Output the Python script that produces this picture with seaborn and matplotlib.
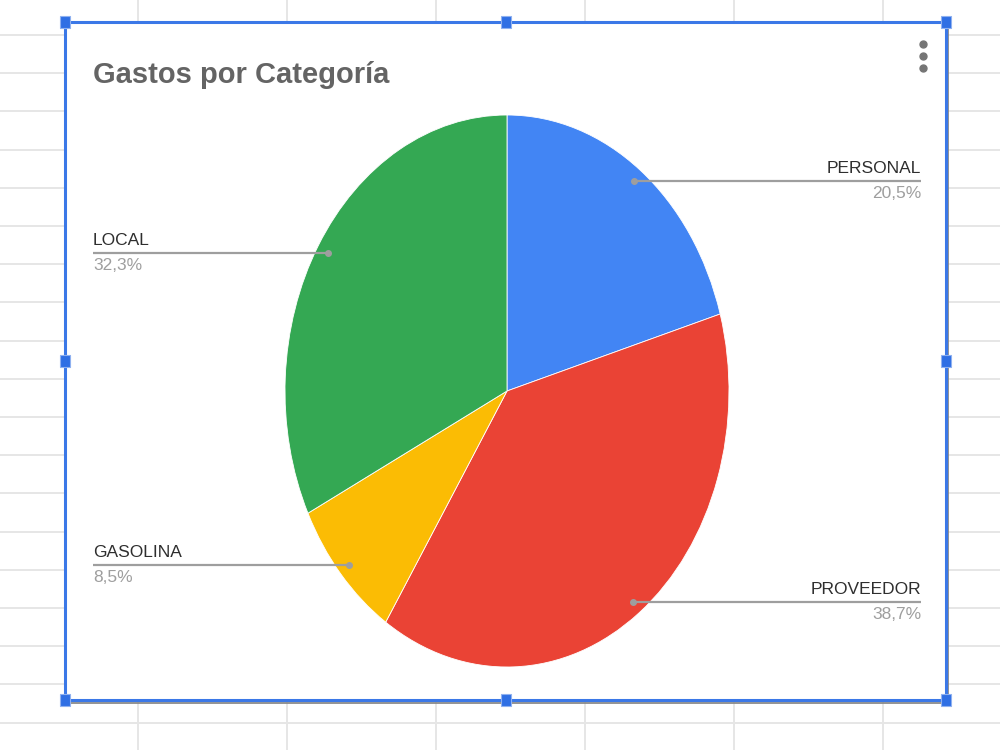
import numpy as np
import matplotlib
matplotlib.use("Agg")
import matplotlib.pyplot as plt
import seaborn as sns

# datos del gráfico
categorias = ["PERSONAL", "PROVEEDOR", "GASOLINA", "LOCAL"]
porcentajes = [20.5, 38.7, 8.5, 32.3]
etiquetas_pct = ["20,5%", "38,7%", "8,5%", "32,3%"]
colores = ["#4285f4", "#ea4335", "#fbbc04", "#34a853"]
titulo = "Gastos por Categoría"

sns.set_theme(style="white")
plt.rcParams['font.family'] = ['Liberation Sans', 'DejaVu Sans']

fig = plt.figure(figsize=(10, 7.5), dpi=100)
fig.patch.set_facecolor("white")

# fondo de la hoja de calculo (coordenadas en pixeles)
bg = fig.add_axes([0, 0, 1, 1], zorder=0)
bg.set_xlim(0, 1000)
bg.set_ylim(750, 0)
bg.axis('off')

for x in np.arange(138, 1000, 149):
    bg.axvline(x, color="#e6e6e6", lw=1.4)
for y in np.arange(35, 750, 38.2):
    bg.axhline(y, color="#e6e6e6", lw=1.4)

# area del grafico
L, R, T, B = 65, 946, 22, 700
bg.add_patch(plt.Rectangle((L, T), R - L, B - T, facecolor="white", edgecolor="none", zorder=2))
# sombra gris + borde azul
bg.plot([L + 2, R + 2, R + 2], [B + 2.5, B + 2.5, T + 2], color="#8a8a8a", lw=1.3, zorder=3)
bg.plot([L, R, R, L, L], [T, T, B, B, T], color="#3b78e7", lw=2.2, zorder=4)
for hx in (L, (L + R) / 2, R):
    for hy in (T, (T + B) / 2, B):
        if hx == (L + R) / 2 and hy == (T + B) / 2:
            continue
        bg.add_patch(plt.Rectangle((hx - 5, hy - 6), 10, 12, facecolor="#2f6fe4",
                                   edgecolor="#8fb1f0", lw=0.8, zorder=5))

# menu de tres puntos
for dy in (44, 56, 68):
    bg.plot(923, dy, 'o', color="#757575", ms=5, zorder=5)

bg.text(93, 83, titulo, fontsize=21, fontweight='bold', color="#646464",
        va='baseline', ha='left', zorder=6)

# pastel (eliptico como en la captura)
cx, cy, rx, ry = 507, 391, 222, 276
ax = fig.add_axes([(cx - rx) / 1000, (750 - cy - ry) / 750, 2 * rx / 1000, 2 * ry / 750], zorder=1)
ax.pie(porcentajes, colors=colores, startangle=90, counterclock=False,
       wedgeprops=dict(edgecolor="white", linewidth=0.6))
ax.set_aspect('auto')
ax.set_xlim(-1, 1)
ax.set_ylim(-1, 1)
ax.axis('off')

# capa de etiquetas
ov = fig.add_axes([0, 0, 1, 1], zorder=3)
ov.set_xlim(0, 1000)
ov.set_ylim(750, 0)
ov.axis('off')
ov.patch.set_alpha(0)

inicio = 0
total = sum(porcentajes)
for cat, p, txt in zip(categorias, porcentajes, etiquetas_pct):
    medio = (inicio + p / 2) / total * 2 * np.pi
    inicio += p
    dx, dy = 0.95 * np.sin(medio), 0.95 * np.cos(medio)
    px, py = ov.transData.inverted().transform(ax.transData.transform((dx, dy)))
    if dx >= 0:
        xe, ha = 921, 'right'
    else:
        xe, ha = 93, 'left'
    ov.plot([px, xe], [py, py], color="#9e9e9e", lw=1.6, solid_capstyle='butt')
    ov.plot(px, py, 'o', color="#9e9e9e", ms=4)
    ov.text(xe, py - 8, cat, fontsize=12.5, color="#2e2e2e", ha=ha, va='baseline')
    ov.text(xe, py + 17, txt, fontsize=12.5, color="#9e9e9e", ha=ha, va='baseline')

fig.savefig("out.png", dpi=100)
